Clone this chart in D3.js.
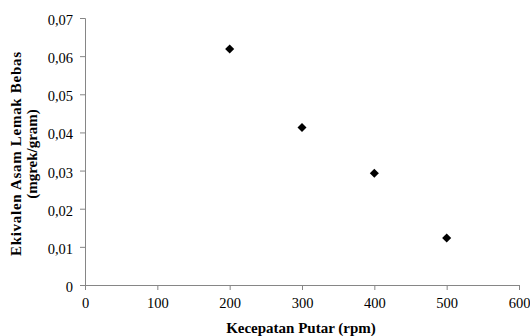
<!DOCTYPE html>
<html>
<head>
<meta charset="utf-8">
<script src="https://cdn.jsdelivr.net/npm/d3@7"></script>
<style>
  html, body { margin: 0; padding: 0; background: #fff; }
  svg { display: block; }
  .tick text { font-family: "Liberation Serif", "Times New Roman", serif; font-size: 14.5px; fill: #000; }
  .axis-title { font-family: "Liberation Serif", "Times New Roman", serif; font-size: 15px; font-weight: bold; fill: #000; }
</style>
</head>
<body>
<svg id="chart" width="530" height="336"></svg>
<script>
// Kecepatan putar (rpm) dan ekivalen asam lemak bebas (mgrek/gram)
const speeds = [200, 300, 400, 500];
const ffaValues = [0.0619, 0.0413, 0.0293, 0.0123];
const xTicks = [0, 100, 200, 300, 400, 500, 600];
const yTicks = [0, 0.01, 0.02, 0.03, 0.04, 0.05, 0.06, 0.07];

const svg = d3.select("#chart");
const plot = { left: 85, right: 519, top: 18, bottom: 285 };
const axisColor = "#868686";

const x = d3.scaleLinear().domain([0, 600]).range([plot.left, plot.right]);
const y = d3.scaleLinear().domain([0, 0.07]).range([plot.bottom, plot.top]);

const fmtY = v => v === 0 ? "0" : d3.format(".2f")(v).replace(".", ",");

const xAxis = svg.append("g")
  .attr("transform", `translate(0,${plot.bottom})`)
  .call(d3.axisBottom(x).tickValues(xTicks).tickSize(5).tickPadding(8).tickFormat(d3.format("d")));
const yAxis = svg.append("g")
  .attr("transform", `translate(${plot.left},0)`)
  .call(d3.axisLeft(y).tickValues(yTicks).tickSize(5).tickPadding(7).tickFormat(fmtY));
yAxis.selectAll(".tick text").attr("dy", "0.45em");

[xAxis, yAxis].forEach(g => {
  g.select(".domain").attr("stroke", axisColor).attr("stroke-width", 1);
  g.selectAll(".tick line").attr("stroke", axisColor);
});

// Diamond markers
const diamond = d3.symbol().type(d3.symbolDiamond2).size(52);
svg.append("g")
  .selectAll("path")
  .data(speeds.map((s, i) => ({ s, v: ffaValues[i] })))
  .join("path")
  .attr("d", diamond)
  .attr("transform", d => `translate(${x(d.s)},${y(d.v)})`)
  .attr("fill", "#000");

// Axis titles
svg.append("text")
  .attr("class", "axis-title")
  .attr("x", 301)
  .attr("y", 333)
  .attr("text-anchor", "middle")
  .text("Kecepatan Putar (rpm)");

const yTitle = svg.append("text")
  .attr("class", "axis-title")
  .attr("transform", `translate(21,154) rotate(-90)`)
  .attr("text-anchor", "middle");
yTitle.append("tspan").attr("x", 0).attr("dy", 0)
  .attr("textLength", 204).attr("lengthAdjust", "spacing")
  .text("Ekivalen Asam Lemak Bebas");
yTitle.append("tspan").attr("x", 0).attr("dy", 16).text("(mgrek/gram)");
</script>
</body>
</html>
